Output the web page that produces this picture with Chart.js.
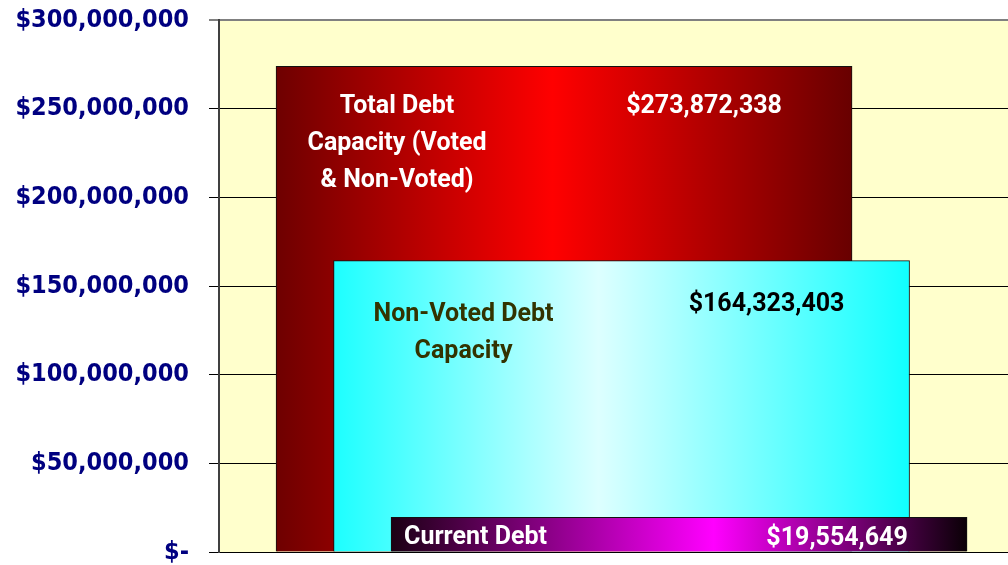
<!DOCTYPE html>
<html>
<head>
<meta charset="utf-8">
<script src="https://cdn.jsdelivr.net/npm/chart.js@4.4.1/dist/chart.umd.min.js"></script>
<style>
  html, body { margin: 0; padding: 0; background: #fff; overflow: hidden; }
  #wrap { width: 1008px; height: 565px; }
</style>
</head>
<body>
<div id="wrap"><canvas id="debt-chart" width="1008" height="565"></canvas></div>
<script>
const categories = [
    ["Total Debt", "Capacity (Voted", "& Non-Voted)"],
    ["Non-Voted Debt", "Capacity"],
    ["Current Debt"],
];
const amounts = [273872338, 164323403, 19554649];
const yTicks = [0, 50000000, 100000000, 150000000, 200000000, 250000000, 300000000];

// gradient stops per bar, left -> middle -> right
const fills = [
    [[0, "#6e0000"], [0.48, "#ff0000"], [1, "#680000"]],
    [[0, "#1cffff"], [0.46, "#ddffff"], [1, "#10ffff"]],
    [[0, "#1c0014"], [0.56, "#ff00ff"], [1, "#0a0006"]],
];
// text placement inside each bar (offsets from bar left / top)
const textStyle = [
    { labelX: 121, labelY: 40, align: "center", valueX: 428, valueY: 40, labelColor: "#fff", valueColor: "#fff" },
    { labelX: 130, labelY: 54, align: "center", valueX: 433, valueY: 44, labelColor: "#333300", valueColor: "#000" },
    { labelX: 13, labelY: 20, align: "left", valueX: 446, valueY: 21, labelColor: "#fff", valueColor: "#fff" },
];

const BAR_W = 576;
const money = (v) => "$" + v.toLocaleString("en-US");

const plotBackground = {
    id: "plotBackground",
    beforeDraw(chart) {
        const { ctx, chartArea: a } = chart;
        ctx.save();
        ctx.fillStyle = "#ffffcc";
        ctx.fillRect(a.left, a.top, a.right - a.left, a.bottom - a.top);
        ctx.restore();
    },
};

const barText = {
    id: "barText",
    afterDatasetsDraw(chart) {
        const ctx = chart.ctx;
        const meta = chart.getDatasetMeta(0);
        ctx.save();
        ctx.font = "bold 25px Roboto";
        ctx.textBaseline = "middle";
        meta.data.forEach((bar, i) => {
            const s = textStyle[i];
            const left = bar.x - bar.width / 2;
            const top = bar.y;
            ctx.fillStyle = s.labelColor;
            ctx.textAlign = s.align;
            categories[i].forEach((line, j) => {
                ctx.fillText(line, left + s.labelX, top + s.labelY + j * 37);
            });
            ctx.fillStyle = s.valueColor;
            ctx.textAlign = "center";
            ctx.fillText(money(amounts[i]), left + s.valueX, top + s.valueY);
        });
        ctx.restore();
    },
};

new Chart(document.getElementById("debt-chart"), {
    type: "bar",
    data: {
        datasets: [
            {
                data: amounts.map((v, i) => ({ x: i, y: v })),
                barThickness: BAR_W,
                grouped: false,
                borderWidth: 1,
                borderColor: "#111",
                borderSkipped: "bottom",
                backgroundColor: (c) => {
                    const chart = c.chart;
                    if (!chart.chartArea || c.dataIndex === undefined) return "#f00";
                    const cx = chart.scales.x.getPixelForValue(c.dataIndex);
                    const g = chart.ctx.createLinearGradient(cx - BAR_W / 2, 0, cx + BAR_W / 2, 0);
                    fills[c.dataIndex].forEach(([p, col]) => g.addColorStop(p, col));
                    return g;
                },
            },
        ],
    },
    options: {
        responsive: false,
        animation: false,
        layout: { padding: { top: 20, bottom: 13, left: 0, right: 0 } },
        plugins: {
            legend: { display: false },
            tooltip: { enabled: false },
        },
        scales: {
            x: {
                type: "linear",
                display: false,
                offset: false,
                min: -6,
                max: 7.72,
            },
            y: {
                min: 0,
                max: 300000000,
                afterBuildTicks: (scale) => {
                    scale.ticks = yTicks.map((v) => ({ value: v }));
                },
                afterFit: (scale) => {
                    scale.width = 219;
                    scale.paddingTop = 0;
                    scale.paddingBottom = 0;
                },
                border: { color: "#404040", width: 2 },
                grid: {
                    color: (c) => (c.tick && c.tick.value === 300000000 ? "#808080" : "#000"),
                    lineWidth: (c) => (c.tick && c.tick.value === 300000000 ? 2 : 1),
                    tickLength: 10,
                },
                ticks: {
                    padding: 20,
                    color: "#000080",
                    font: { family: "'DejaVu Sans Condensed', 'DejaVu Sans'", weight: "bold", size: 25, lineHeight: 1 },
                    callback: (v) => (v === 0 ? "$-" : money(v)),
                },
            },
        },
    },
    plugins: [plotBackground, barText],
});
</script>
</body>
</html>
